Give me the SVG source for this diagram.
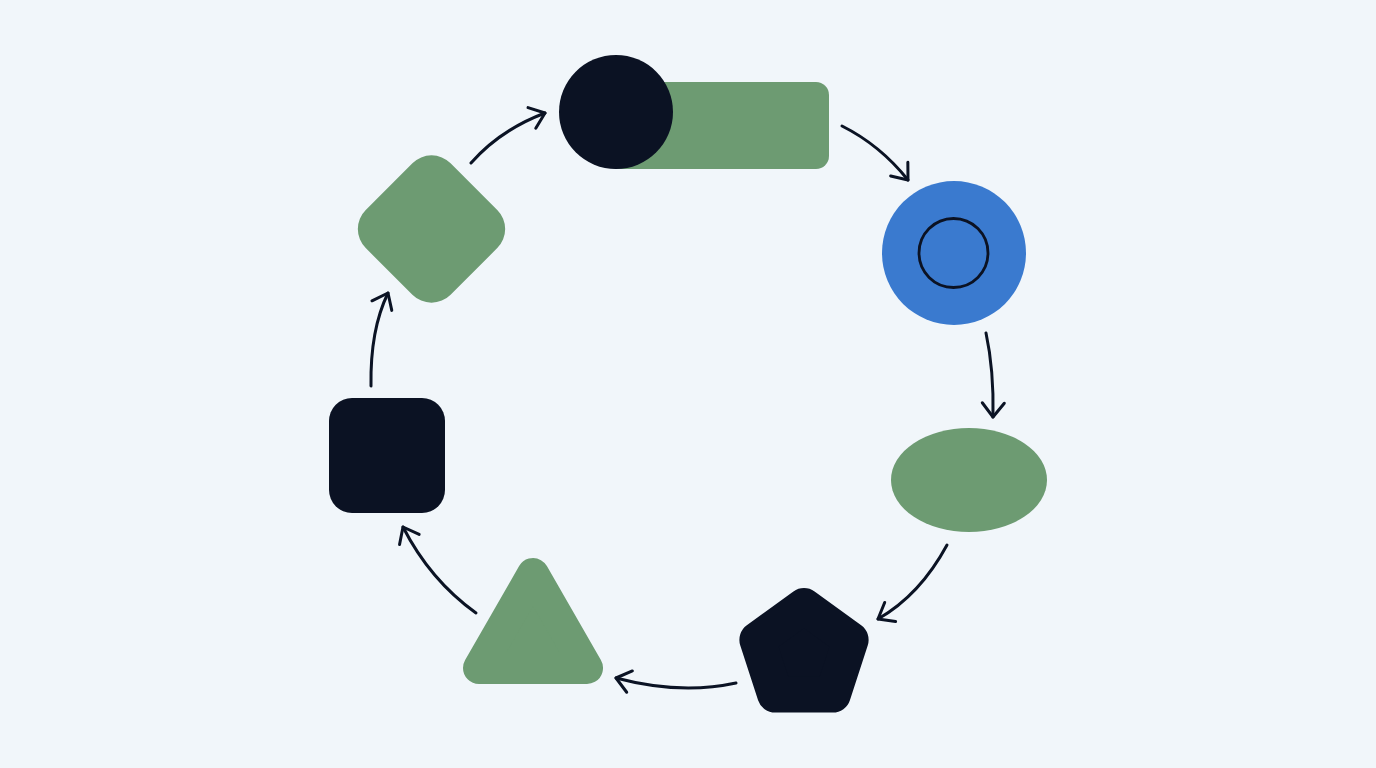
<svg xmlns="http://www.w3.org/2000/svg" width="1376" height="768" viewBox="0 0 1376 768">
<defs>
<style>
.green{fill:#6d9b72}
.dark{fill:#0b1223}
.conn{fill:none;stroke:#0b1324;stroke-width:3;stroke-linecap:round}
</style>
<marker id="arr" viewBox="-17 -14 21 28" refX="0" refY="0" markerWidth="21" markerHeight="28" markerUnits="userSpaceOnUse" orient="auto">
<path d="M-14 -11 L0 0 L-14 11" fill="none" stroke="#0b1324" stroke-width="3" stroke-linecap="round" stroke-linejoin="round"/>
</marker>
</defs>
<rect width="1376" height="768" fill="#f1f6fa"/>
<g id="node-toggle">
<rect class="green" x="604" y="82" width="225" height="87" rx="13"/>
<circle class="dark" cx="616" cy="112" r="57"/>
</g>
<g id="node-target">
<circle cx="954" cy="253" r="72" fill="#3a7acf"/>
<circle cx="953.5" cy="253" r="34.5" fill="none" stroke="#0b1223" stroke-width="2.8"/>
</g>
<g id="node-ellipse">
<ellipse class="green" cx="969" cy="480" rx="78" ry="52"/>
</g>
<g id="node-pentagon">
<polygon class="dark" stroke="#0b1223" stroke-width="36" stroke-linejoin="round" points="804,606 850.6,639.9 832.8,694.6 775.2,694.6 757.4,639.9"/>
</g>
<g id="node-triangle">
<polygon class="green" stroke="#6d9b72" stroke-width="32" stroke-linejoin="round" points="533,574 587,668 479,668"/>
</g>
<g id="node-square">
<rect class="dark" x="329" y="398" width="116" height="115" rx="23"/>
</g>
<g id="node-diamond">
<rect class="green" x="371.5" y="169" width="120" height="120" rx="27" transform="rotate(45 431.5 229)"/>
</g>
<g id="connectors">
<path class="conn" marker-end="url(#arr)" d="M471 163 Q500 130 545 113"/>
<path class="conn" marker-end="url(#arr)" d="M842 126 Q880 145 908 180"/>
<path class="conn" marker-end="url(#arr)" d="M986 333 Q994 370 993 417"/>
<path class="conn" marker-end="url(#arr)" d="M947 545 Q920 595 878 619"/>
<path class="conn" marker-end="url(#arr)" d="M736 683 Q680 695 616 678"/>
<path class="conn" marker-end="url(#arr)" d="M476 613 Q430 580 403 527"/>
<path class="conn" marker-end="url(#arr)" d="M371 386 Q370 330 388 293"/>
</g>
</svg>
